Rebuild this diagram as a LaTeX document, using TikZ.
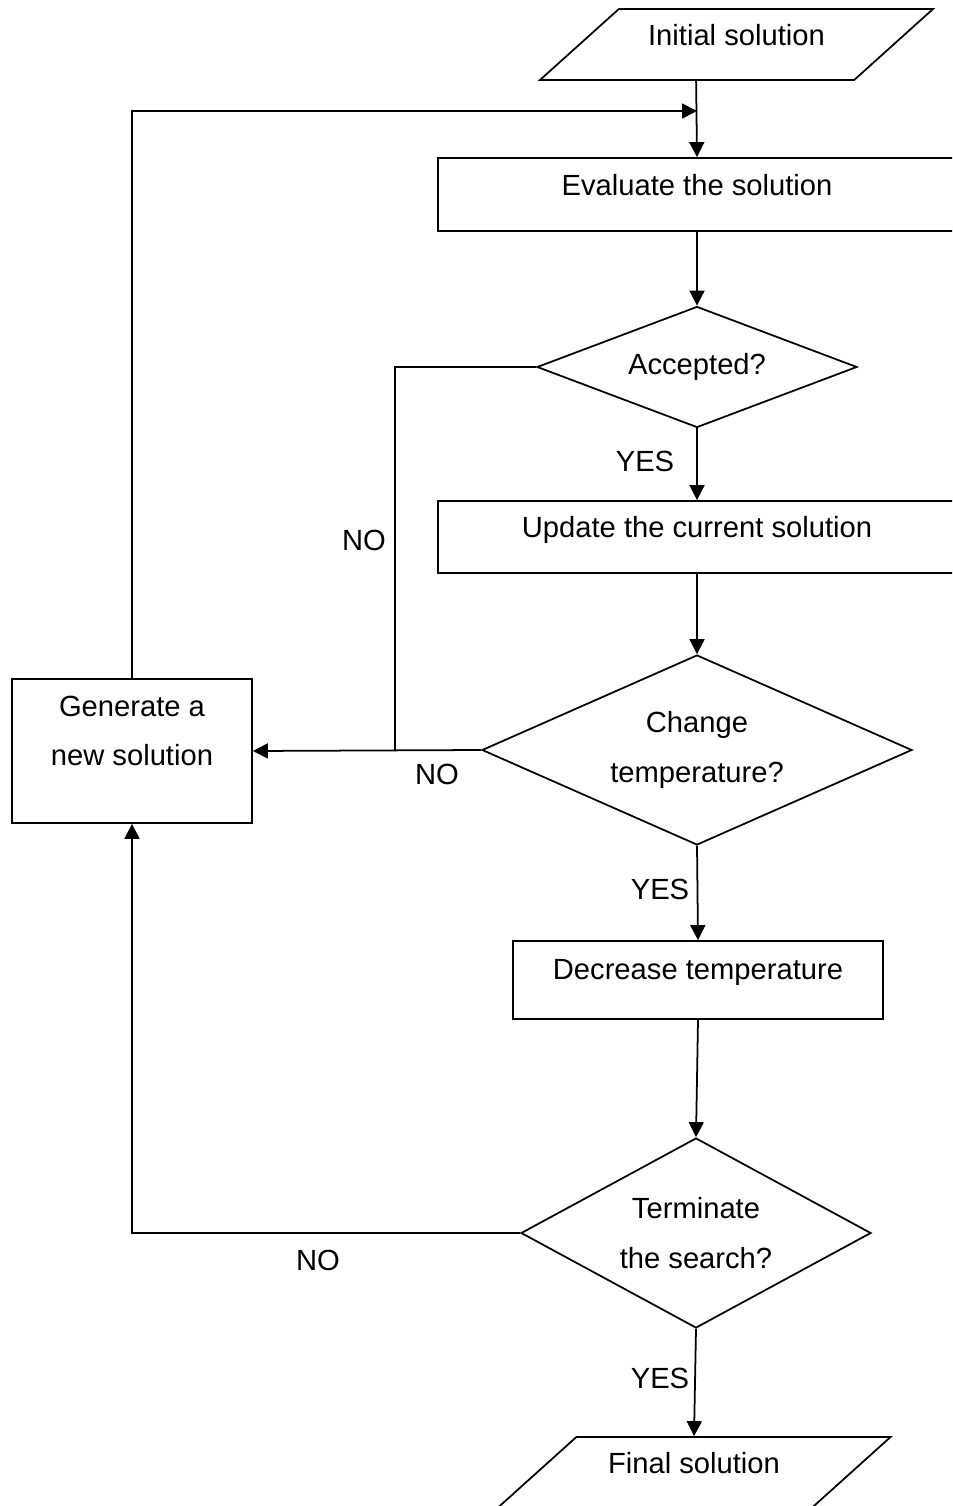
\documentclass[tikz,border=0pt]{standalone}
\usepackage{fontspec}
\setmainfont{Liberation Sans}
\usepackage{tikz}
\usetikzlibrary{arrows.meta}
\usetikzlibrary{shapes.geometric}
\usetikzlibrary{positioning}
\tikzset{box/.style = {draw, line width=1pt, rectangle, inner sep=0pt, align=center, text depth=11pt},
         decision/.style = {draw, line width=1pt, diamond, inner sep=0pt, align=center},
         io/.style = {draw, line width=1pt, trapezium, trapezium left angle=42,
                      trapezium right angle=138, trapezium stretches body,
                      text height=11.8pt, text depth=10.2pt, inner xsep=0pt, inner ysep=9.2pt,
                      minimum width=7.86cm},
         flow/.style = {line width=1pt, -{Triangle[length=0.3cm, width=0.3cm]}},
         link/.style = {line width=1pt}}

\begin{document}
\begin{tikzpicture}[font=\fontsize{16.6}{28.4}\selectfont]
    \useasboundingbox (0, 0) rectangle (19.04, -30.12);
    \clip (0, 0) rectangle (19.04, -30.12);

    \node [io] (init) at (14.73, -0.89) {Initial solution};
    \node [box, minimum width=10.36cm, minimum height=1.46cm] (eval) at (13.94, -3.89) {Evaluate the solution};
    \node [decision, aspect=2.64, minimum width=6.4cm, minimum height=2.42cm] (acc) at (13.94, -7.34) {Accepted?};
    \node [box, minimum width=10.36cm, minimum height=1.44cm] (upd) at (13.94, -10.74) {Update the current solution};
    \node [decision, aspect=2.26, minimum width=8.6cm, minimum height=3.8cm] (chg) at (13.94, -15.0) {Change\\temperature?};
    \node [box, text depth=23pt, minimum width=4.8cm, minimum height=2.88cm] (gen) at (2.64, -15.02) {Generate a\\new solution};
    \node [box, text depth=12pt, minimum width=7.4cm, minimum height=1.56cm] (dec) at (13.96, -19.6) {Decrease temperature};
    \node [decision, aspect=1.84, minimum width=7.0cm, minimum height=3.8cm] (term) at (13.92, -24.66) {Terminate\\the search?};
    \node [io] (fin) at (13.88, -29.45) {Final solution};

    \node (yesacc) at (12.9, -9.22) {YES};
    \node (noacc) at (7.28, -10.8) {NO};
    \node (nochg) at (8.74, -15.48) {NO};
    \node (yeschg) at (13.2, -17.78) {YES};
    \node (noterm) at (6.36, -25.2) {NO};
    \node (yesterm) at (13.2, -27.56) {YES};

    \coordinate (merge) at (13.94, -2.22);
    \coordinate (drop) at (7.9, -15.0);

    \draw [flow] (init.bottom side) -- (eval.north);
    \draw [flow] (eval.south) -- (acc.north);
    \draw [flow] (acc.south) -- (upd.north);
    \draw [flow] (upd.south) -- (chg.north);
    \draw [flow] (chg.south) -- (dec.north);
    \draw [flow] (dec.south) -- (term.north);
    \draw [flow] (term.south) -- (fin.north);

    \draw [link] (acc.west) -| (drop);
    \draw [flow] (chg.west) -- (gen.east);
    \draw [flow] (term.west) -| (gen.south);
    \draw [flow] (gen.north) |- (merge);
\end{tikzpicture}
\end{document}
